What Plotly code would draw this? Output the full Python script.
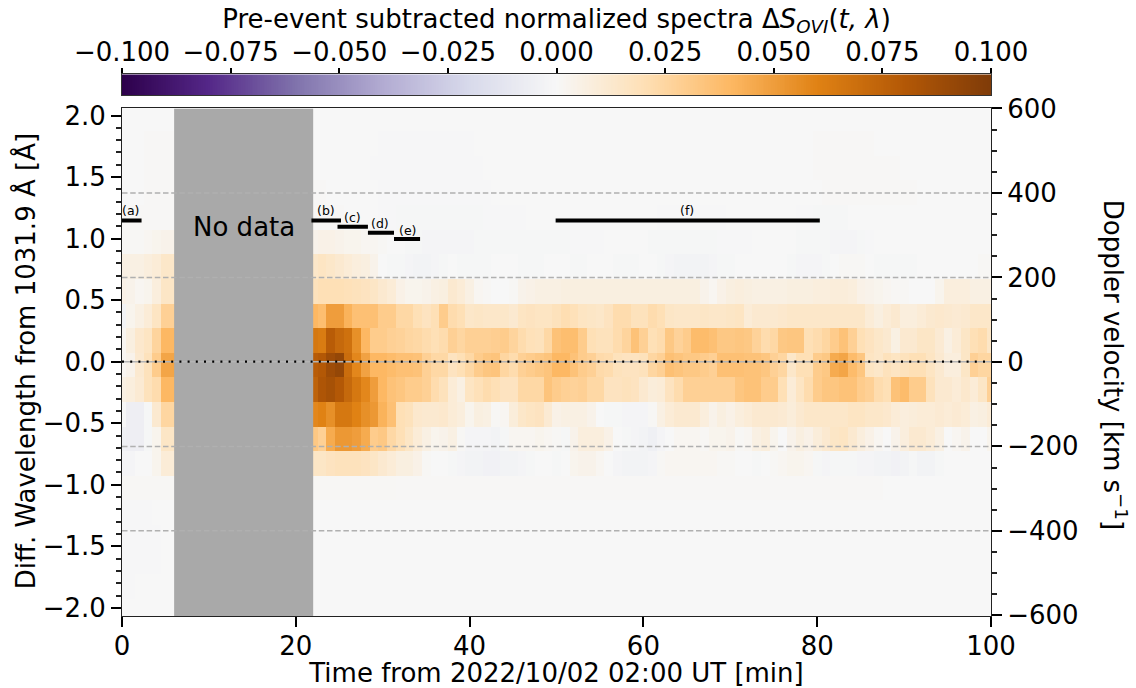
import numpy as np
import plotly.graph_objects as go

FONT = "DejaVu Sans"
times = list(range(0, 101))
wavelengths = [-2.027, -1.827, -1.627, -1.427, -1.227, -1.027, -0.827, -0.627, -0.427, -0.227, -0.027,
               0.173, 0.373, 0.573, 0.773, 0.973, 1.173, 1.373, 1.573, 1.773, 1.973]
GAP = [0] * 15  # minutes hidden by the "No data" band

# Values in units of 0.001; columns: 0-6, gap, 22-37, 38-73, 74-100
row_p10 = [0,0,0,0,0,0,0] + GAP + [0,0,0,0,0,0,0,0,0,0,0,0,0,0,0,0] + [0,0,0,0,0,0,0,0,0,0,0,0,0,0,0,0,0,0,0,0,0,0,0,0,0,0,0,0,0,0,0,0,0,0,0,0] + [0,0,0,0,0,0,0,0,0,0,0,0,0,0,0,0,0,0,0,0,0,0,0,0,0,0,0]
row_p9 = [0,0,0,0.5,0.5,0.5,0.5] + GAP + [0,0,0,0,0,0,0,0,-0.5,-0.5,-0.5,-0.5,-0.5,-0.5,-0.5,-0.5] + [-0.5,-0.5,-0.5,0,0,0,0,0,0,0,0,0,0,0,0,0,0,0,0,0,0,0,0,0,0,0,0,0,0,0,0,0,0,0,0,0] + [0,0,0,0,0,0,0.5,0.5,0.5,0.5,0.5,0.5,0.5,0,0,0,0,0,0,0,0,0,0,0,0,0,0]
row_p8 = [0,0,0,0.5,0.5,0.5,0.5] + GAP + [0,0,0,0,0,0,0,-0.5,-0.5,-0.5,-0.5,-0.5,-0.5,-0.5,-0.5,-0.5] + [-0.5,-0.5,-0.5,-0.5,0,0,0,0,0,0,0,0,0,0,0,0,0,0,0,0,0,0,0,0,0,0,0,0,0,0,0,0,0,0,0,0] + [0,0,0,0,0,0,0.5,0.5,0.5,0.5,0.5,0.5,0.5,0.5,0.5,0.5,0,0,0,0,0,0,0,0,0,0,0]
row_p7 = [0,0,0,0.5,0.5,0.5,0.5] + GAP + [0.5,0.5,0,0,0,0,0,0,-0.5,-0.5,-0.5,-0.5,-0.5,-0.5,-0.5,-0.5] + [-0.5,-0.5,-0.5,-0.5,-0.5,0,0,0,0,0,0,0,0,0,0,0,0,0,0,0,0,0,0,0,0,0,0,0,0,0,0,0,0,0,0,0] + [0,0,0,0,0,0,0,0.5,0.5,0.5,0.5,0.5,0.5,0.5,0.5,0.5,0.5,0.5,0,0,0,0,0,0,0,0,0]
row_p6 = [0.5,0.5,0.5,0.5,0.5,0.5,0.5] + GAP + [0.5,0.5,0.5,0.5,0,0,0,0,-0.5,-0.5,-1,-1,-1,-1,-1,-1] + [-1,-1,-1,-1,-0.5,-0.5,-0.5,-0.5,-0.5,0,0,0,0,0,0,0,0,0,0,0,0,0,0,0,-0.5,-0.5,-0.5,-0.5,-0.5,-0.5,-0.5,-0.5,0,0,0,0] + [0,0,0,0,-0.5,-0.5,-1,-1,-1,-1,0,0,0,0,0,0,0,0,0,0,0,0,0,0,0,0,0]
row_p5 = [1,1,1,2,3,4,4] + GAP + [4,5,5,4,3,3,2,2,1,0,0,-1,-1,-2,-2,-2] + [-2,-2,-2,-1,-1,-1,-1,-1,-1,-1,-1,-1,-1,-1,-0.5,-0.5,-0.5,-0.5,0,0,0,0,0,-1,-1,-1,-1,-1,-1,-1,-1,-0.5,-0.5,-0.5,-0.5,0] + [0,0,0,0,-1,-1,-1,-1,-2,-2,-2,-1,-0.5,0,0,0,0,0,0,0,0,0,0,0,0,0,0]
row_p4 = [6,6,6,8,10,14,14] + GAP + [14,16,14,12,10,8,7,4,0,-1,-1,-2,-3,-3,-2,-1] + [0,-1,-1,-1,-1,0,0,0,-1,-1,-1,0,0,0,-1,-1,0,0,0,-1,-1,-1,0,0,-1,-2,-3,-3,-3,-3,-2,-1,-1,0,0,0] + [0,0,0,-1,-2,-2,-2,-1,0,1,1,1,0,-1,-1,-1,-1,-1,0,0,0,0,0,0,0,1,1]
row_p3 = [5,4,2,3,8,15,15] + GAP + [18,20,20,20,19,18,17,15,12,10,5,3,3,4,6,7] + [12,10,6,2,1,0,0,1,4,5,6,6,6,7,7,7,7,7,7,7,7,7,7,7,7,7,7,7,7,4,2,5,7,8,7,6] + [6,6,6,7,7,7,8,8,9,9,8,5,4,3,2,1,1,0,0,0,3,8,8,8,6,6,6]
row_p2 = [-3,3,6,10,16,28,28] + GAP + [40,37,50,50,42,36,36,36,30,30,24,24,20,17,20,30] + [22,20,14,15,14,14,14,12,16,17,16,16,18,21,19,16,15,14,17,22,22,18,18,22,20,15,14,14,14,15,14,14,15,16,10,12] + [12,12,13,14,14,14,14,14,14,14,14,14,10,7,10,12,8,8,10,12,13,12,11,12,14,14,14]
row_p1 = [2,7,13,16,26,40,40] + GAP + [65,63,78,72,68,55,40,30,30,28,27,25,24,22,20,22] + [28,25,28,28,28,29,30,26,22,19,18,24,35,37,37,30,20,18,18,22,26,35,28,20,22,32,27,30,38,38,36,32,32,33,32,27] + [22,24,32,33,33,20,22,25,30,35,28,20,17,14,12,6,12,12,15,15,11,6,10,15,20,22,15]
row_0 = [2,4,12,18,30,47,47] + GAP + [78,80,88,92,70,58,48,40,40,38,36,36,35,28,24,24] + [17,20,24,30,33,34,25,22,28,30,32,34,40,40,35,30,28,23,22,18,17,17,18,25,28,36,34,32,32,30,28,36,36,36,35,35] + [33,28,25,14,20,20,30,32,45,47,38,33,16,14,18,16,18,20,20,16,12,8,8,15,28,25,25]
row_m1 = [6,8,11,18,22,40,40] + GAP + [75,82,85,80,72,65,58,50,40,35,33,30,30,28,22,18] + [10,6,16,19,22,20,17,17,24,24,24,34,30,28,27,28,24,24,17,17,18,17,12,9,10,17,22,28,28,28,28,28,28,33,35,35] + [30,30,20,10,16,22,30,33,33,35,35,30,28,22,20,35,38,30,30,18,12,12,10,13,10,15,28]
row_m2 = [0,-6,-6,-1,12,25,25] + GAP + [58,60,55,65,65,60,55,52,42,36,20,18,13,12,12,13] + [10,8,3,7,6,1,2,9,14,16,17,11,5,6,6,6,4,0,-1,-1,-2,-2,-2,1,6,10,12,12,12,8,4,7,5,8,10,12] + [12,12,11,9,12,14,14,14,14,14,16,16,14,14,13,10,8,9,10,10,11,10,11,10,6,7,10]
row_m3 = [-5,-6,-6,-1,3,15,15] + GAP + [32,28,45,52,52,50,45,30,32,24,20,15,10,6,3,4] + [6,1,-2,-2,-2,-3,-1,2,2,2,3,2,1,-1,4,8,8,8,5,0,-1,-2,-3,-5,-2,0,2,2,2,1,3,3,4,1,2,6] + [8,3,0,4,7,5,9,12,15,16,12,8,5,2,0,4,8,12,12,10,6,0,2,4,0,0,3]
row_m4 = [-2,-2,0,0,3,10,10] + GAP + [15,15,17,18,18,18,17,15,12,10,7,7,5,1,0,0] + [-1,-2,-3,-3,-4,-4,-3,-3,-2,-1,0,0,-1,0,3,4,4,2,0,-2,-3,-3,-3,-2,1,2,2,2,2,2,2,1,1,0,0,-1] + [0,1,2,3,3,2,-1,-2,-1,-1,-1,-2,-2,-3,-3,-4,-3,-1,-3,-3,-1,0,0,0,0,0,0]
row_m5 = [1,1,1,1,1,1,1] + GAP + [1,1,1,1,1,1,1,1,1,1,0.5,0.5,0.5,0.5,0.5,0.5] + [0.5,0.5,0.5,0.5,0.5,0.5,0.5,0.5,0.5,0.5,0.5,0.5,0.5,0.5,0.5,0.5,0.5,0.5,0.5,0.5,0.5,0.5,0.5,0.5,0.5,0.5,0.5,0.5,0.5,0.5,0.5,0.5,0.5,0.5,0.5,0.5] + [0.5,0.5,0.5,0.5,0.5,0.5,0.5,0.5,0.5,0.5,0.5,0.5,0.5,0.5,0,0,0,0,0,0,0,0,0,0,0,0,0]
row_m6 = [-0.5,-0.5,-0.5,-0.5,0,0,0] + GAP + [0,0,0,0,0,0,0,0,0,0,0,0,0,0,0,0] + [0,0,0,0,0,0,0,0,0,0,0,0,0,0,0,0,0,0,0,0,0,0,0,0,0,0,0,0,0,0,0,0,0,0,0,0] + [0,0,0,0,0,0,0,0,0,0,0,0,0,0,0,0,0,0,0,0,0,0,0,0,0,0,0]
row_m7 = [-0.5,-0.5,-0.5,-0.5,-0.5,0,0] + GAP + [0,0,0,0,0,0,0,0,0,0,0,0,0,0,0,0] + [0,0,0,0,0,0,0,0,0,0,0,0,0,0,0,0,0,0,0,0,0,0,0,0,0,0,0,0,0,0,0,0,0,0,0,0] + [0,0,0,0,0,0,0,0,0,0,0,0,0,0,0,0,0,0,0,0,0,0,0,0,0,0,0]
row_m8 = [-0.5,-0.5,-0.5,-0.5,-0.5,0,0] + GAP + [0,0,0,0,0,0,0,0,0,0,0,0,0,0,0,0] + [0,0,0,0,0,0,0,0,0,0,0,0,0,0,0,0,0,0,0,0,0,0,0,0,0,0,0,0,0,0,0,0,0,0,0,0] + [0,0,0,0,0,0,0,0,0,0,0,0,0,0,0,0,0,0,0,0,0,0,0,0,0,0,0]
row_m9 = [-0.5,-0.5,0,0,0,0,0] + GAP + [0,0,0,0,0,0,0,0,0,0,0,0,0,0,0,0] + [0,0,0,0,0,0,0,0,0,0,0,0,0,0,0,0,0,0,0,0,0,0,0,0,0,0,0,0,0,0,0,0,0,0,0,0] + [0,0,0,0,0,0,0,0,0,0,0,0,0,0,0,0,0,0,0,0,0,0,0,0,0,0,0]
row_m10 = [0,0,0,0,0,0,0] + GAP + [0,0,0,0,0,0,0,0,0,0,0,0,0,0,0,0] + [0,0,0,0,0,0,0,0,0,0,0,0,0,0,0,0,0,0,0,0,0,0,0,0,0,0,0,0,0,0,0,0,0,0,0,0] + [0,0,0,0,0,0,0,0,0,0,0,0,0,0,0,0,0,0,0,0,0,0,0,0,0,0,0]

rows = [row_m10, row_m9, row_m8, row_m7, row_m6, row_m5, row_m4, row_m3, row_m2, row_m1, row_0,
        row_p1, row_p2, row_p3, row_p4, row_p5, row_p6, row_p7, row_p8, row_p9, row_p10]
for r in rows:
    assert len(r) == 101, len(r)
z = np.array(rows) / 1000.0

PuOr_r = ["#2d004b", "#542788", "#8073ac", "#b2abd2", "#d8daeb", "#f7f7f7",
          "#fee0b6", "#fdb863", "#e08214", "#b35806", "#7f3b08"]
colorscale = [[i / 10, c] for i, c in enumerate(PuOr_r)]
cbar_ticks = [-0.100, -0.075, -0.050, -0.025, 0.0, 0.025, 0.050, 0.075, 0.100]
key_levels = np.linspace(-0.1, 0.1, 501)  # colour key, not data

no_data = (6, 22)
velocity_guides = [400, 200, -200, -400]
segments = {"(a)": (0, 2.25, 1.147, 1.226, 1.0),
            "(b)": (21.8, 25.2, 1.147, 1.226, 23.5),
            "(c)": (24.8, 28.3, 1.096, 1.172, 26.5),
            "(d)": (28.3, 31.3, 1.047, 1.122, 29.7),
            "(e)": (31.3, 34.3, 0.998, 1.068, 32.8),
            "(f)": (49.9, 80.3, 1.147, 1.226, 65.0)}

Y_RANGE = [-2.066, 2.058]
V_RANGE = [-601.5, 600]
TICK = dict(size=26, family=FONT, color="black")
LABEL = dict(size=26, family=FONT, color="black")

# pixel layout of the figure
W, H, L, R, T, B = 1136, 688, 121.5, 991, 108.5, 616.5
area_h = B  # plot area runs from the page top to the bottom spine

fig = go.Figure()
fig.add_trace(go.Heatmap(x=times, y=wavelengths, z=z, zmin=-0.1, zmax=0.1, colorscale=colorscale,
                         hoverinfo="skip", showscale=False))
fig.add_trace(go.Heatmap(x=key_levels, y=[0, 1], z=[key_levels, key_levels], zmin=-0.1, zmax=0.1,
                         colorscale=colorscale, hoverinfo="skip", showscale=False, xaxis="x3", yaxis="y3"))
fig.add_trace(go.Scatter(x=[no_data[0], no_data[1], no_data[1], no_data[0], no_data[0]],
                         y=[Y_RANGE[0], Y_RANGE[0], Y_RANGE[1], Y_RANGE[1], Y_RANGE[0]],
                         mode="lines", line=dict(width=0), fill="toself", fillcolor="#a9a9a9",
                         hoverinfo="skip", showlegend=False))
for v in velocity_guides:
    fig.add_trace(go.Scatter(x=[0, 100], y=[v, v], yaxis="y2", mode="lines",
                             line=dict(color="#b0b0b0", width=1.5, dash="5.5px,2.7px"),
                             hoverinfo="skip", showlegend=False))
fig.add_trace(go.Scatter(x=[0, 100], y=[0, 0], mode="lines",
                         line=dict(color="#b4b4b4", width=1.5), hoverinfo="skip", showlegend=False))
fig.add_trace(go.Scatter(x=[0, 100], y=[0, 0], mode="lines", line=dict(color="black", width=2.2, dash="2px,6.2px"),
                         hoverinfo="skip", showlegend=False))
annots = []
for name, (x0, x1, y, ty, tx) in segments.items():
    fig.add_trace(go.Scatter(x=[x0, x1], y=[y, y], mode="lines", line=dict(color="black", width=4),
                             hoverinfo="skip", showlegend=False))
    annots.append(dict(x=tx, y=ty, xref="x", yref="y", text=name, showarrow=False,
                       font=dict(size=12.5, family=FONT, color="black")))
annots.append(dict(x=14, y=1.095, xref="x", yref="y", text="No data", showarrow=False,
                   font=dict(size=26, family=FONT, color="black")))
annots.append(dict(x=(1115 - L) / (R - L), y=(area_h - 365) / area_h, xref="paper", yref="paper",
                   xanchor="center", yanchor="middle",
                   text="Doppler velocity [km s<sup>\u22121</sup>]",
                   showarrow=False, textangle=90, font=LABEL))
annots.append(dict(x=(25 - L) / (R - L), y=(area_h - 362) / area_h, xref="paper", yref="paper",
                   xanchor="center", yanchor="middle",
                   text="Diff. Wavelength from 1031.9 \u00c5 [\u00c5]",
                   showarrow=False, textangle=-90, font=LABEL))

axis_common = dict(showgrid=False, zeroline=False, ticks="outside", tickwidth=2, ticklen=10, tickcolor="black",
                   tickfont=TICK, showline=True, linecolor="#222", linewidth=1, automargin=True)
fig.update_layout(
    width=W, height=H, autosize=False, showlegend=False, paper_bgcolor="white", plot_bgcolor="white",
    font=dict(family=FONT, color="black"),
    margin=dict(l=L, r=W - R, t=0, b=H - B, pad=0, autoexpand=False),
    annotations=annots,
    xaxis=dict(range=[0, 100], tickvals=[0, 20, 40, 60, 80, 100], mirror=True, anchor="y", ticklabelstandoff=-3,
               title=dict(text="Time from 2022/10/02 02:00 UT [min]", standoff=3, font=LABEL),
               **axis_common),
    yaxis=dict(domain=[0, (B - T) / area_h], range=Y_RANGE, tickvals=[-2, -1.5, -1, -0.5, 0, 0.5, 1, 1.5, 2],
               tickformat=".1f", anchor="x",
               minor=dict(ticks="outside", dtick=0.1, tick0=0, ticklen=5, tickwidth=1.5, tickcolor="#222"),
               **axis_common),
    yaxis2=dict(range=V_RANGE, overlaying="y", side="right", anchor="x", tickvals=[-600, -400, -200, 0, 200, 400, 600],
                minor=dict(ticks="outside", dtick=50, tick0=0, ticklen=5, tickwidth=1.5, tickcolor="#222"),
                **axis_common),
    xaxis3=dict(range=[-0.1, 0.1], side="top", anchor="y3", tickvals=cbar_ticks, tickformat=".3f", ticklabelstandoff=-3,
                title=dict(text="Pre-event subtracted normalized spectra \u0394<i>S</i><sub><i>OVI</i></sub>(<i>t, \u03bb</i>)",
                           standoff=0, font=LABEL),
                ticks="outside", tickwidth=2, ticklen=5, tickcolor="black", tickfont=TICK, showgrid=False,
                zeroline=False, showline=True, linecolor="#333", linewidth=1, mirror=True, automargin=True),
    yaxis3=dict(domain=[(B - 95) / area_h, (B - 74.5) / area_h], range=[0, 1], anchor="x3", showticklabels=False,
                ticks="", showgrid=False, zeroline=False, showline=True, linecolor="#333", linewidth=1, mirror=True),
)
fig.write_html("out.html", config={"displayModeBar": False},
               post_script="document.body.style.margin='0';document.documentElement.style.overflow='hidden';")
